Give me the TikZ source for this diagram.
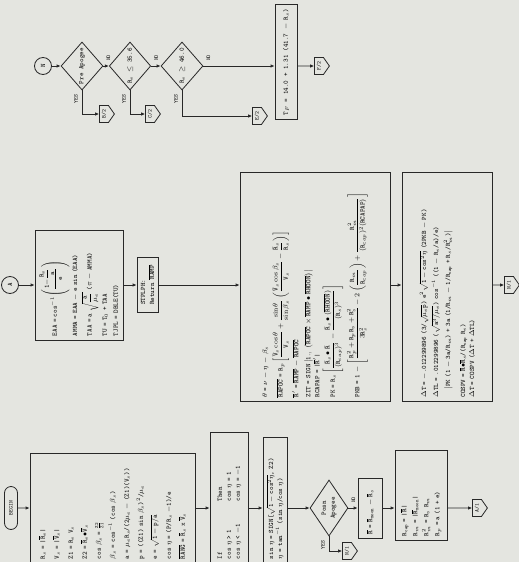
\documentclass[tikz,border=0pt]{standalone}
\usepackage{amsmath, amssymb}
\usepackage{fontspec}
\usetikzlibrary{shapes.geometric, shapes.symbols, shapes.misc, arrows.meta}

\definecolor{paper}{RGB}{228,229,224}
\definecolor{ink}{RGB}{40,40,40}
\newcommand{\tfont}{\fontsize{6.8}{9}\selectfont\ttfamily}
\newcommand{\sfont}{\fontsize{5.5}{6}\selectfont\ttfamily}
\newcommand{\ol}[1]{$\overline{\hbox{#1}}$}
\newcommand{\tx}[1]{\mathtt{#1}}

\begin{document}
\begin{tikzpicture}[x=1pt, y=-1pt, line width=0.8pt,
    box/.style={draw=ink, rotate=90, align=left, font=\tfont, inner xsep=4pt, inner ysep=2pt},
    dec/.style={draw=ink, diamond, rotate=90, align=center, inner sep=0pt, font=\tfont},
    conn/.style={draw=ink, circle, rotate=90, minimum size=17pt, inner sep=0pt, font=\tfont},
    offpg/.style={draw=ink, signal, signal to=south, signal pointer angle=110, rotate=90, inner sep=1.5pt, minimum width=17pt, minimum height=13pt, font=\sfont},
    term/.style={draw=ink, rounded rectangle, rotate=90, minimum width=45pt, minimum height=13pt, inner sep=1pt, font=\sfont},
    flow/.style={draw=ink, -{Latex[length=4pt, width=3.5pt]}},
    lbl/.style={rotate=90, inner sep=0pt, font=\sfont}]
\fill[paper] (0,0) rectangle (519,562);
\useasboundingbox (0,0) rectangle (519,562);

% apogee tests
\node[conn] (N) at (43,66) {N};
\node[dec, minimum width=48pt, minimum height=37pt] (preap) at (82,66) {Pre Apogee};
\node[dec, minimum width=48pt, minimum height=38pt] (lo) at (130,66) {R$_s$ $\le$ 35.6};
\node[dec, minimum width=48pt, minimum height=42pt] (hi) at (182,66) {R$_s$ $\ge$ 46.0};
\node[box, minimum width=115pt, minimum height=22pt] (tf) at (286,62) {T$_F$ = 14.0 + 1.31 (41.7 $-$ R$_s$)};
\node[offpg] (f2) at (319,66) {F/2};
\node[offpg] (b2) at (104,114) {B/2};
\node[offpg] (c2) at (150,114) {C/2};
\node[offpg] (e2) at (257,116) {E/2};

\node[lbl] (no1) at ([shift={(5,-8)}]preap.south) {NO};
\node[lbl] (no2) at ([shift={(5,-8)}]lo.south) {NO};
\node[lbl] (no3) at ([shift={(5,-8)}]hi.south) {NO};
\node[lbl] (yes1) at ([shift={(-6,9)}]preap.west) {YES};
\node[lbl] (yes2) at ([shift={(-6,9)}]lo.west) {YES};
\node[lbl] (yes3) at ([shift={(-6,9)}]hi.west) {YES};

\draw[flow] (N) -- (preap);
\draw[flow] (preap) -- (lo);
\draw[flow] (lo) -- (hi);
\draw[flow] (hi.south) -- (hi.south -| tf.north);
\draw[flow] (tf.south |- hi.south) -- (f2);
\draw[flow] (preap.west) |- (b2);
\draw[flow] (lo.west) |- (c2);
\draw[flow] (hi.west) |- (e2);

% entry A
\node[conn] (A) at (10,285) {A};
\node[box, minimum width=110pt, minimum height=88pt, text width=102pt] (eaa) at (79,285) {%
EAA = cos$^{-1}\!\left(\dfrac{\tx{1 - }\dfrac{\tx R_s}{\tx a}}{\tx e}\right)$\\[2pt]
AMMA = EAA $-$ e sin (EAA)\\[3pt]
TAA = a $\sqrt{\dfrac{\tx a}{\mu_e}}$ ($\pi$ $-$ AMMA)\\[3pt]
TU = T$_0$ + TAA\\[2pt]
TJPL = DBLE(TU)};
\node[box, minimum width=55pt, minimum height=21pt] (stp) at (147.5,285) {STPLPH:\\Return \ol{RAMP}};
\node[box, minimum width=229pt, minimum height=150pt, text width=221pt] (theta) at (315,287) {%
$\theta$ = $\nu$ $-$ $\eta$ $-$ $\beta_s$\\[3pt]
\ol{RAPOC} = R$_p$\,$\left[\dfrac{\bar{\tx V}_s\cos\theta}{\tx V_s}+\dfrac{\sin\theta}{\sin\beta_s}\left(\dfrac{\bar{\tx V}_s\cos\beta_s}{\tx V_s}-\dfrac{\bar{\tx R}_s}{\tx R_s}\right)\right]$\\[2pt]
\ol{R}$'$ = \ol{RAMP} $-$ \ol{RAPOC}\\[3pt]
ZIT = SIGN\,$\left|\tx{1.,\ }\left(\overline{\hbox{RAPOC}}\times\overline{\hbox{RAMP}}\bullet\overline{\hbox{RHOON}}\right)\right|$\\
RCAPAP = |\ol{R}$'$|\\[2pt]
PK = R$_s$\,$\left[\dfrac{\bar{\tx R}_s\bullet\bar{\tx R}}{(\tx R_{cap})^3}-\dfrac{\bar{\tx R}_s\bullet(\overline{\hbox{RHOON}})}{(\tx R_s)^3}\right]$\\[3pt]
PKB = 1 $-$ $\left[\dfrac{\tx R_p^2+\tx R_p\tx R_s+\tx R_s^2}{3\tx R_s^2}-2\left(\dfrac{\tx R_m}{\tx R_{cap}}\right)+\dfrac{\tx R_m^2}{(\tx R_{cap})^2(\hbox{RCAPAP})}\right]$};
\node[box, minimum width=229pt, minimum height=90pt, text width=221pt] (dt) at (447,287) {%
$\Delta$T = $-$.012299896 (3/$\sqrt{\mu_e\tx{p}}$) e$^2\sqrt{\tx{1 - cos}^2\eta}$ (2PKB $-$ PK)\\[3pt]
$\Delta$TL = .012299896 ($\sqrt{\tx a^3/\mu_e}$) cos$^{-1}$ ((1 $-$ R$_s$/a)/e)\\[3pt]
\hspace*{8pt}$\big|$PK (1 $-$ 3a/R$_m$) + 3a (1/R$_m$ $-$ 1/R$_{\tx{cap}}$ + R$_s$/R$_m^2$)$\big|$\\[6pt]
COSPV = \ol{R}$\bullet$\ol{R}$_s$/(R$_{\tx{cap}}$ R$_s$)\\
$\Delta$T = COSPV ($\Delta$T + $\Delta$TL)};
\node[offpg] (n1a) at (509,285) {N/1};

\draw[flow] (A) -- (A -| eaa.north);
\draw[flow] (eaa.south) -- (stp);
\draw[flow] (stp) -- (stp -| theta.north);
\draw[flow] (theta.south |- stp) -- (stp -| dt.north);
\draw[flow] (dt.south |- stp) -- (n1a);

% start
\node[term] (begin) at (11,508) {BEGIN};
\node[box, font={\fontsize{6.8}{14}\selectfont\ttfamily}, minimum width=110pt, minimum height=165pt, text width=102pt] (init) at (112.5,508) {%
R$_s$ = |\ol{R}$_s$|\\
V$_s$ = |\ol{V}$_s$|\\
Z1 = R$_s$ V$_s$\\
Z2 = \ol{R}$_s\bullet$\ol{V}$_s$\\
cos $\beta_s$ = $\frac{\tx{Z2}}{\tx{Z1}}$\\
$\beta_s$ = cos$^{-1}$ (cos $\beta_s$)\\
a = $\mu_e$R$_s$/(2$\mu_e$ $-$ (Z1)(V$_s$))\\
p = ((Z1) sin $\beta_s$)$^2$/$\mu_e$\\
e = $\sqrt{\tx{1 - p/a}}$\\
cos $\eta$ = (P/R$_s$ $-$1)/e\\
\ol{RANG} = \ol{R}$_s$ x \ol{V}$_s$};
\node[box, minimum width=131pt, minimum height=38pt, text width=123pt] (ifthen) at (229,497.5) {%
\begin{tabular}{@{}l@{\hspace{22pt}}l@{}}
If & Then\\
cos $\eta$ > 1 & cos $\eta$ = 1\\
cos $\eta$ < $-$1 & cos $\eta$ = $-$1
\end{tabular}};
\node[box, minimum width=126pt, minimum height=24pt, text width=118pt] (sineta) at (275,500) {%
sin $\eta$ = SIGN[$\sqrt{\tx{1 - cos}^2\eta}$, Z2)\\
$\eta$ = tan$^{-1}$ (sin $\eta$/cos $\eta$)};
\node[dec, minimum width=56pt, minimum height=38pt] (posn) at (329,508) {Posn\\Apogee};
\node[box, minimum width=60pt, minimum height=24pt, text width=52pt] (rvec) at (370,508) {\ol{R} = \ol{R}$_{\tx{moon}}$ $-$ \ol{R}$_s$};
\node[box, font={\fontsize{6.8}{11}\selectfont\ttfamily}, minimum width=90pt, minimum height=52pt, text width=82pt] (rcap) at (421,495) {%
R$_{\tx{cap}}$ = |\ol{R}|\\
R$_m$ = |\ol{R}$_{\tx{moon}}$|\\
R$_m^2$ = R$_s$ R$_m$\\
R$_p$ = a (1 + e)};
\node[offpg] (a1) at (477,508) {A/1};
\node[offpg] (n1b) at (347,551) {N/1};
\node[lbl] (no4) at ([shift={(5,-8)}]posn.south) {NO};
\node[lbl] (yes4) at ([shift={(-6,9)}]posn.west) {YES};

\draw[flow] (begin) -- (begin -| init.north);
\draw[flow] (init.south |- begin) -- (begin -| ifthen.north);
\draw[flow] (ifthen.south |- begin) -- (begin -| sineta.north);
\draw[flow] (sineta.south |- begin) -- (posn);
\draw[flow] (posn) -- (rvec);
\draw[flow] (rvec) -- (rvec -| rcap.north);
\draw[flow] (rcap.south |- begin) -- (a1);
\draw[flow] (posn.west) |- (n1b);
\end{tikzpicture}
\end{document}
